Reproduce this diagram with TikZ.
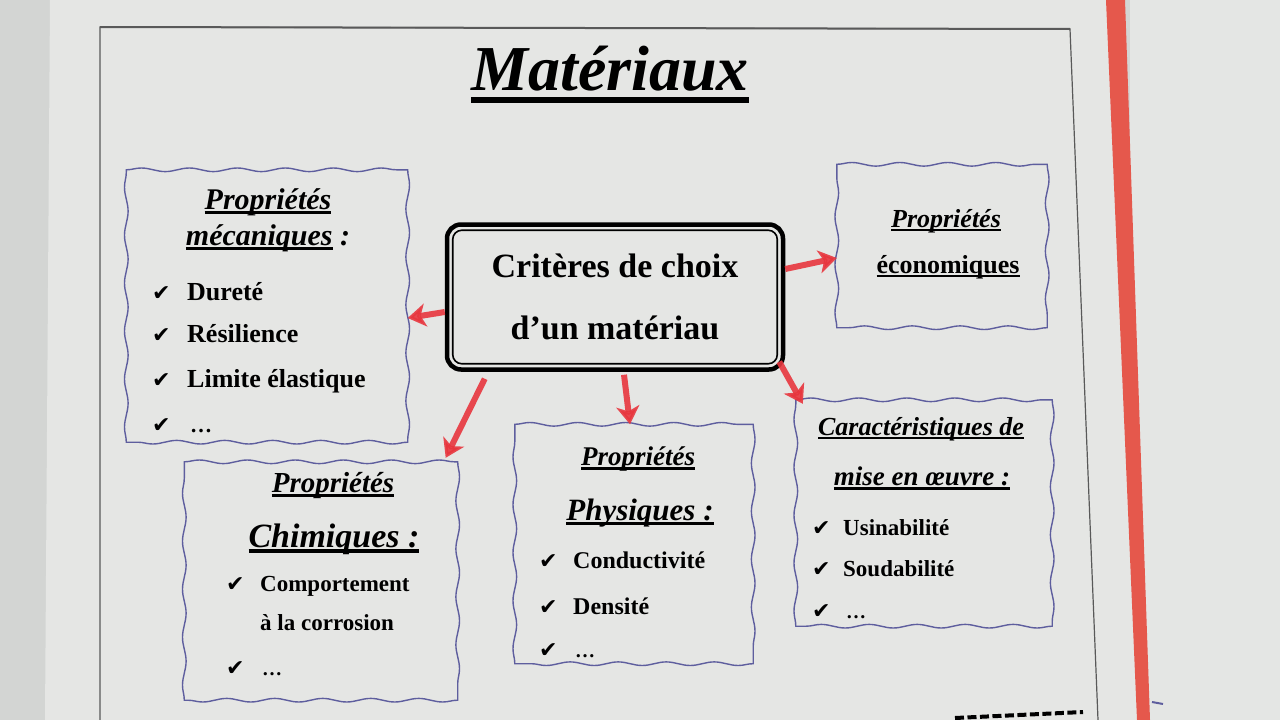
\documentclass[tikz,border=0pt]{standalone}
\usepackage{fontspec}
\setmainfont{Liberation Serif}
\newfontfamily\checkfont{DejaVu Sans}
\usepackage{tikz}
\usetikzlibrary{arrows.meta, decorations.pathmorphing, positioning}

\definecolor{wall}{HTML}{D3D5D3}
\definecolor{paper}{HTML}{E5E6E4}
\definecolor{binder}{HTML}{E5584C}
\definecolor{wavy}{HTML}{5E5E9E}
\definecolor{marker}{HTML}{E8363E}

\newcommand{\sz}[1]{\fontsize{#1}{#1}\selectfont}
% thick underline, as in the printed sheet
\newcommand{\ulbox}[2][-0.17em]{\setbox0=\hbox{#2}\rlap{\rule[#1]{\wd0}{0.1em}}\box0}

\tikzset{
  boxarea/.style={inner sep=0pt},
  wavyline/.style={draw=wavy, line width=1.4pt, line cap=round, decorate,
    decoration={snake, amplitude=1.8pt, segment length=48pt}},
  critbox/.style={draw, line width=4.5pt, rounded corners=14pt, align=center,
    font=\bfseries\fontsize{34}{62}\selectfont},
  head/.style={anchor=base, inner sep=0pt, font=\bfseries\itshape\sz{#1}},
  item/.style={anchor=base west, inner sep=0pt, font=\bfseries\sz{#1}},
  tick/.style={anchor=base west, inner sep=0pt, font=\checkfont\sz{22}},
  redarrow/.style={draw=marker, line width=6pt, opacity=0.9,
    -{Stealth[length=18pt, width=23pt, inset=5pt]}}
}

\begin{document}
\begin{tikzpicture}[x=1pt, y=-1pt]
\useasboundingbox (0,0) rectangle (1280,720);
% Photo background, sheet and binder edge
\fill[wall] (0,0) rectangle (1280,720);
\fill[wall!60!white] (1130,0) rectangle (1280,720);
\fill[paper] (50,0) -- (1108,0) -- (1138,720) -- (45,720) -- cycle;
\fill[binder] (1106,0) -- (1125,0) -- (1150,720) -- (1137,720) -- cycle;
\draw[wavy, line width=2pt] (1152,702) -- (1163,704);
% Page frame
\draw[black!65, line width=1.2pt] (100,720) -- (100,27) -- (1070,29) -- (1098,720);
\draw[black!65, line width=2pt] (100,27) -- (1070,29);
\draw[line width=4pt, dash pattern=on 9pt off 3.5pt] (955,718) -- (1083,712);

% Title
\node[head=64] (title) at (610,90) {\ulbox[-0.21em]{Matériaux}};

% Central box
\node[critbox, minimum width=336, minimum height=145] (crit) at (615,297)
  {Critères de choix\\d’un matériau};
\draw[line width=1.6pt, rounded corners=9pt]
  ([shift={(8,8)}]crit.north west) rectangle ([shift={(-8,-8)}]crit.south east);

% Wavy boxes
\node[boxarea, minimum width=281, minimum height=272] (mecBox) at (267,306) {};
\node[boxarea, minimum width=210, minimum height=163] (ecoBox) at (942,246) {};
\node[boxarea, minimum width=273, minimum height=238] (chimBox) at (321,581) {};
\node[boxarea, minimum width=238, minimum height=239] (physBox) at (634,544) {};
\node[boxarea, minimum width=256, minimum height=226] (miseBox) at (924,513) {};
\foreach \b in {mecBox, ecoBox, chimBox, physBox, miseBox} {
  \draw[wavyline] (\b.north west) -- (\b.north east);
  \draw[wavyline] (\b.north east) -- (\b.south east);
  \draw[wavyline] (\b.south east) -- (\b.south west);
  \draw[wavyline] (\b.south west) -- (\b.north west);
}

% Propriétés mécaniques
\node[head=30] (mecH1) at (268,209) {\ulbox{Propriétés}};
\node[head=30] (mecH2) at (268,245) {\ulbox{mécaniques}~:};
\node[tick] (mecC1) at (152,300) {✔};
\node[item=26] (mecI1) at (187,300) {Dureté};
\node[tick] (mecC2) at (152,342) {✔};
\node[item=26] (mecI2) at (187,342) {Résilience};
\node[tick] (mecC3) at (152,387) {✔};
\node[item=26] (mecI3) at (187,387) {Limite élastique};
\node[tick] (mecC4) at (152,432) {✔};
\node[item=22] (mecI4) at (190,432) {…};

% Propriétés économiques
\node[head=26] (ecoH1) at (946,227) {\ulbox{Propriétés}};
\node[anchor=base, inner sep=0pt, font=\bfseries\sz{26}] (ecoH2) at (948,273)
  {\ulbox{économiques}};

% Propriétés chimiques
\node[head=29] (chimH1) at (333,492) {\ulbox{Propriétés}};
\node[head=34] (chimH2) at (334,547) {\ulbox{Chimiques :}};
\node[tick] (chimC1) at (226,591) {✔};
\node[item=23] (chimI1) at (260,591) {Comportement};
\node[item=23] (chimI2) at (260,630) {à la corrosion};
\node[tick] (chimC2) at (226,675) {✔};
\node[item=20] (chimI3) at (262,675) {…};

% Propriétés physiques
\node[head=27] (physH1) at (638,465) {\ulbox{Propriétés}};
\node[head=31] (physH2) at (640,520) {\ulbox{Physiques :}};
\node[tick] (physC1) at (539,568) {✔};
\node[item=24] (physI1) at (573,568) {Conductivité};
\node[tick] (physC2) at (539,614) {✔};
\node[item=24] (physI2) at (573,614) {Densité};
\node[tick] (physC3) at (539,657) {✔};
\node[item=20] (physI3) at (575,657) {…};

% Caractéristiques de mise en oeuvre
\node[head=26] (miseH1) at (921,435) {\ulbox{Caractéristiques de}};
\node[head=27] (miseH2) at (922,485) {\ulbox{mise en œuvre :}};
\node[tick] (miseC1) at (812,535) {✔};
\node[item=23] (miseI1) at (843,535) {Usinabilité};
\node[tick] (miseC2) at (812,576) {✔};
\node[item=23] (miseI2) at (843,576) {Soudabilité};
\node[tick] (miseC3) at (812,618) {✔};
\node[item=20] (miseI3) at (846,618) {…};

% Red arrows
\draw[redarrow] ([shift={(0,15)}]crit.west) -- ([shift={(0,12)}]mecBox.east);
\draw[redarrow] ([shift={(0,-28)}]crit.east) -- ([shift={(0,12)}]ecoBox.west);
\draw[redarrow] ([shift={(40,7)}]crit.south west) -- ([shift={(-12,-4)}]chimBox.north east);
\draw[redarrow] ([shift={(9,3)}]crit.south) -- ([shift={(-4,0)}]physBox.north);
\draw[redarrow] ([shift={(-6,-10)}]crit.south east) -- ([shift={(7,4)}]miseBox.north west);
\end{tikzpicture}
\end{document}
